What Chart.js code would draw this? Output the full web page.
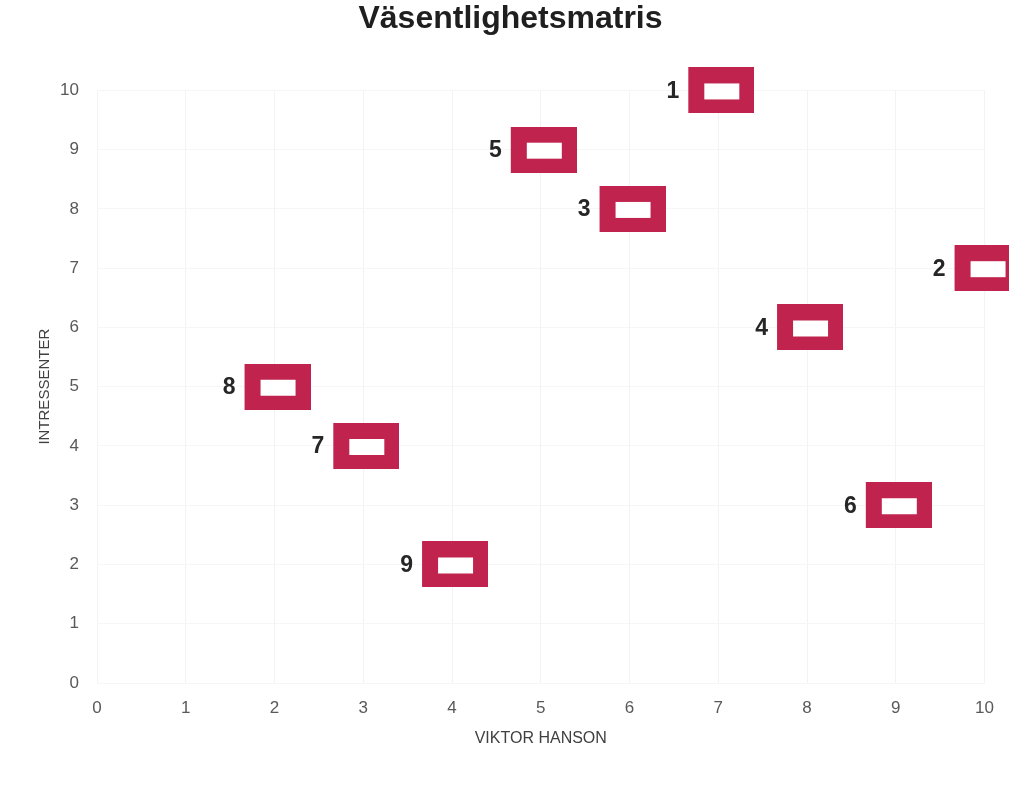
<!DOCTYPE html>
<html>
<head>
<meta charset="utf-8">
<script src="https://cdn.jsdelivr.net/npm/chart.js@4"></script>
<style>
html,body{margin:0;padding:0;background:#fff;}
#wrap{position:relative;width:1009px;height:793px;}
</style>
</head>
<body>
<div id="wrap"><canvas id="c" width="1009" height="793"></canvas></div>
<script>
const chartTitle = 'Väsentlighetsmatris';
const xTitle = 'VIKTOR HANSON';
const yTitle = 'INTRESSENTER';
const pointLabels = ['1','2','3','4','5','6','7','8','9'];
const xValues = [7, 10, 6, 8, 5, 9, 3, 2, 4];
const yValues = [10, 7, 8, 6, 9, 3, 4, 5, 2];

const markColor = '#c0234d';
const FONT = '"Liberation Sans", Arial, sans-serif';

function makeMarker(){
  const pad = 6, w = 66, h = 46;
  const cv = document.createElement('canvas');
  cv.width = w + pad; cv.height = h;
  const g = cv.getContext('2d');
  g.fillStyle = markColor;
  g.fillRect(pad,0,w,h);
  g.fillStyle = '#ffffff';
  g.fillRect(pad+16,16,35,16);
  return cv;
}
const marker = makeMarker();

const labelPlugin = {
  id:'pointLabels',
  afterDatasetsDraw(chart){
    const ctx = chart.ctx;
    const meta = chart.getDatasetMeta(0);
    ctx.save();
    ctx.font = 'bold 23px ' + FONT;
    ctx.fillStyle = '#262626';
    ctx.textAlign = 'right';
    ctx.textBaseline = 'middle';
    meta.data.forEach((el,i)=>{
      ctx.fillText(pointLabels[i], el.x - 39, el.y + 1);
    });
    ctx.restore();
  }
};

const data = xValues.map((x,i)=>({x:x, y:yValues[i]}));

new Chart(document.getElementById('c'), {
  type:'scatter',
  data:{datasets:[{
    data:data,
    pointStyle: marker,
    pointRadius: 30,
    pointHoverRadius: 30,
    clip: false
  }]},
  options:{
    responsive:false,
    animation:false,
    layout:{autoPadding:false,padding:{left:32,right:20,top:0,bottom:41}},
    plugins:{
      legend:{display:false},
      tooltip:{enabled:false},
      title:{display:true,text:chartTitle,color:'#1f1f1f',
        font:{family:FONT,size:32,weight:'bold'},
        padding:{top:0,bottom:52}}
    },
    scales:{
      x:{type:'linear',min:0,max:10,
        ticks:{stepSize:1,color:'#595959',font:{family:FONT,size:17},padding:15},
        grid:{color:'#f3f3f3',drawTicks:false},
        border:{display:false},
        title:{display:true,text:xTitle,color:'#404040',font:{family:FONT,size:16},padding:{top:4,bottom:4}},
        afterFit(s){ s.height = 69; }
      },
      y:{type:'linear',min:0,max:10,
        ticks:{stepSize:1,color:'#595959',font:{family:FONT,size:17},padding:18},
        grid:{color:'#f6f6f6',drawTicks:false},
        border:{display:false},
        title:{display:true,text:yTitle,color:'#404040',font:{family:FONT,size:15},padding:{top:4,bottom:4}},
        afterFit(s){ s.width = 65; }
      }
    }
  },
  plugins:[labelPlugin]
});
</script>
</body>
</html>
